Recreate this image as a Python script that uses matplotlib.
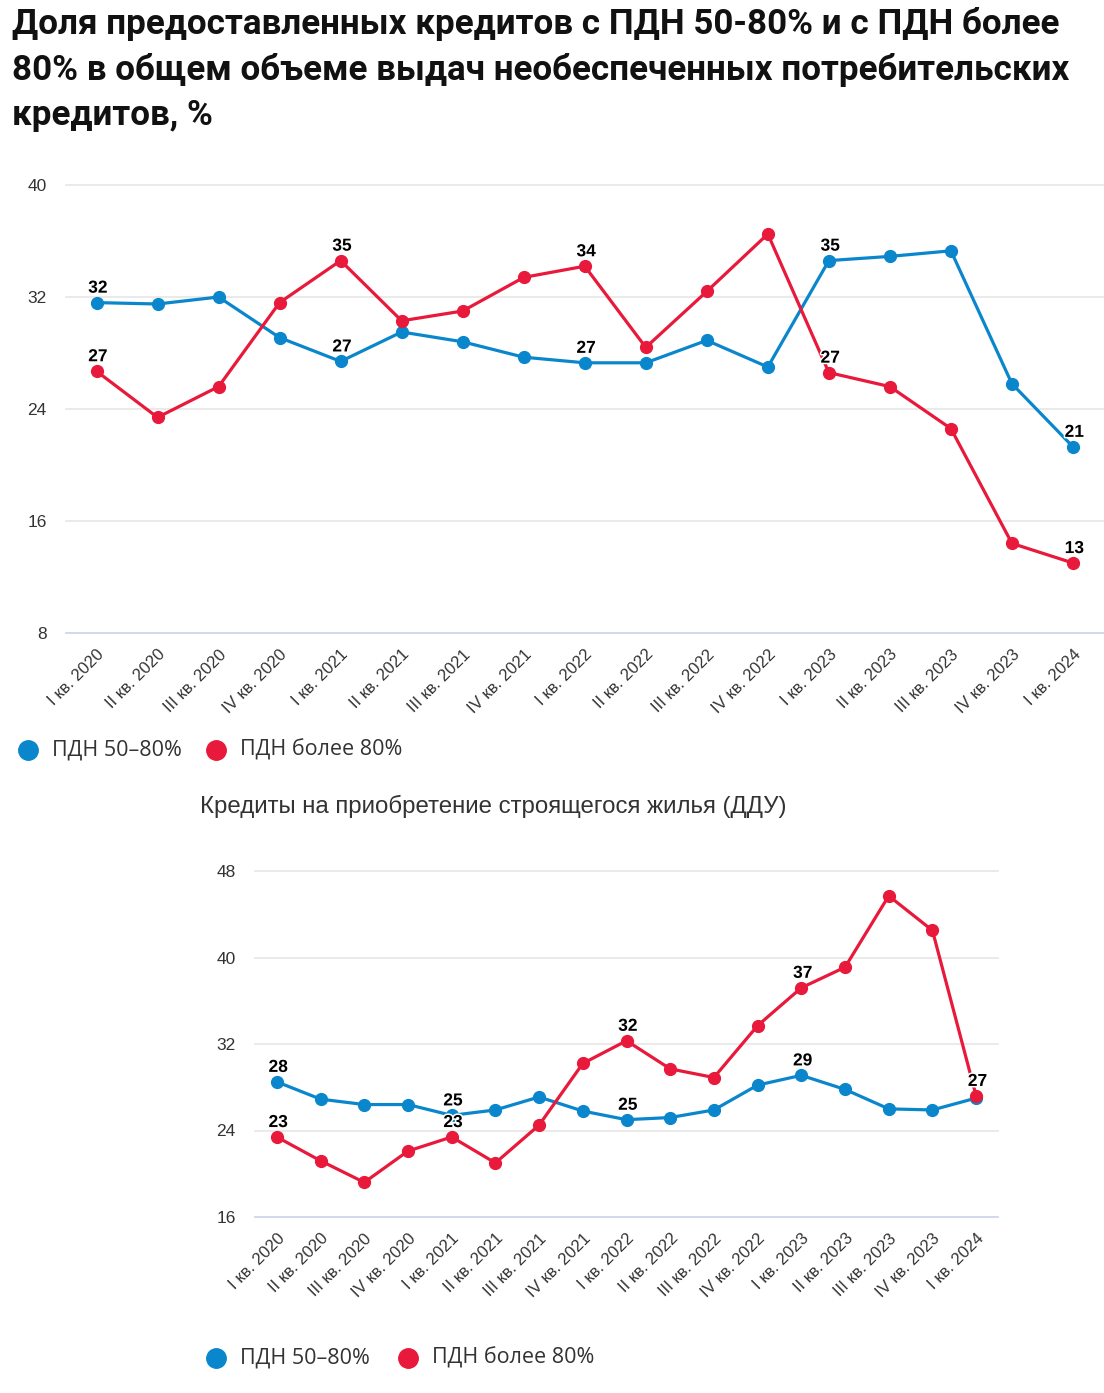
import matplotlib
matplotlib.use("Agg")
import matplotlib.pyplot as plt
from matplotlib.lines import Line2D
import matplotlib.patheffects as pe

plt.rcParams['font.family'] = ['Liberation Sans', 'DejaVu Sans']

quarters = ["I кв. 2020", "II кв. 2020", "III кв. 2020", "IV кв. 2020",
            "I кв. 2021", "II кв. 2021", "III кв. 2021", "IV кв. 2021",
            "I кв. 2022", "II кв. 2022", "III кв. 2022", "IV кв. 2022",
            "I кв. 2023", "II кв. 2023", "III кв. 2023", "IV кв. 2023",
            "I кв. 2024"]

# Chart 1: unsecured consumer loans
top_pdn_50_80 = [31.6, 31.5, 32.0, 29.1, 27.4, 29.5, 28.8, 27.7, 27.3, 27.3,
                 28.9, 27.0, 34.6, 34.9, 35.3, 25.8, 21.3]
top_pdn_80 = [26.7, 23.4, 25.6, 31.6, 34.6, 30.3, 31.0, 33.4, 34.2, 28.4,
              32.4, 36.5, 26.6, 25.6, 22.6, 14.4, 13.0]
top_lab_50_80 = [0, 4, 8, 12, 16]
top_lab_80 = [0, 4, 8, 12, 16]
top_yticks = [8, 16, 24, 32, 40]

# Chart 2: loans for housing under construction (DDU)
bot_pdn_50_80 = [28.5, 26.9, 26.4, 26.4, 25.4, 25.9, 27.1, 25.8, 25.0, 25.2,
                 25.9, 28.2, 29.1, 27.8, 26.0, 25.9, 27.0]
bot_pdn_80 = [23.4, 21.2, 19.2, 22.1, 23.4, 21.0, 24.5, 30.2, 32.3, 29.7,
              28.9, 33.7, 37.2, 39.1, 45.7, 42.5, 27.2]
bot_lab_50_80 = [0, 4, 8, 12]
bot_lab_80 = [0, 4, 8, 12, 16]
bot_yticks = [16, 24, 32, 40, 48]

title = ("Доля предоставленных кредитов с ПДН 50-80% и с ПДН более\n"
         "80% в общем объеме выдач необеспеченных потребительских\n"
         "кредитов, %")
subtitle = "Кредиты на приобретение строящегося жилья (ДДУ)"
series_names = ["ПДН 50–80%", "ПДН более 80%"]

BLUE = "#0a87cc"
RED = "#e8193a"
GRID = "#e6e6e6"
AXIS = "#ccd6eb"

W, H = 1104, 1393
fig = plt.figure(figsize=(W / 100, H / 100), dpi=100)


def fx(px):
    return px / W


def fy(py):
    return 1 - py / H


def draw(ax, s1, s2, l1, l2, yticks):
    x = list(range(len(quarters)))
    ax.plot(x, s1, color=BLUE, lw=2.3, marker='o', ms=8.5, zorder=3,
            solid_joinstyle='round')
    ax.plot(x, s2, color=RED, lw=2.3, marker='o', ms=8.5, zorder=4,
            solid_joinstyle='round')
    stroke = [pe.withStroke(linewidth=2.2, foreground='white')]
    for i in l1:
        ax.annotate(f"{round(s1[i])}", (x[i], s1[i]), xytext=(1, 5),
                    textcoords='offset points', ha='center', va='bottom',
                    fontsize=12.5, fontweight='bold', color='black',
                    path_effects=stroke, zorder=6)
    for i in l2:
        ax.annotate(f"{round(s2[i])}", (x[i], s2[i]), xytext=(1, 5),
                    textcoords='offset points', ha='center', va='bottom',
                    fontsize=12.5, fontweight='bold', color='black',
                    path_effects=stroke, zorder=6)
    ax.set_xlim(-0.5, len(quarters) - 0.5)
    ax.set_ylim(yticks[0], yticks[-1])
    ax.set_yticks(yticks)
    ax.set_yticklabels([str(t) for t in yticks])
    ax.set_xticks(x)
    ax.set_xticklabels(quarters, rotation=45, ha='right', va='top',
                       rotation_mode='anchor')
    for sp in ['top', 'right', 'left']:
        ax.spines[sp].set_visible(False)
    ax.spines['bottom'].set_color(AXIS)
    ax.spines['bottom'].set_linewidth(1.2)
    ax.grid(axis='y', color=GRID, lw=1.2, zorder=0)
    ax.set_axisbelow(True)
    ax.tick_params(axis='y', length=0, pad=14, labelsize=12.5,
                   labelcolor='#333333')
    ax.tick_params(axis='x', length=0, pad=10, labelsize=12,
                   labelcolor='#333333')
    for g in ax.get_ygridlines():
        g.set_clip_on(False)


ax1 = fig.add_axes([fx(66), fy(633), fx(1103.5) - fx(66), fy(185) - fy(633)])
draw(ax1, top_pdn_50_80, top_pdn_80, top_lab_50_80, top_lab_80, top_yticks)

ax2 = fig.add_axes([fx(255), fy(1217), fx(998) - fx(255), fy(871) - fy(1217)])
draw(ax2, bot_pdn_50_80, bot_pdn_80, bot_lab_50_80, bot_lab_80, bot_yticks)

fig.text(fx(12), fy(7), title, ha='left', va='top', fontsize=25.2,
         fontweight='bold', color='#111111', linespacing=1.46,
         family=['Roboto', 'DejaVu Sans'])

fig.text(fx(200), fy(806), subtitle, ha='left', va='center', fontsize=17.3,
         color='#333333')


def legend(x0, y0, x_second):
    for (xm, name, col) in [(x0, series_names[0], BLUE),
                            (x_second, series_names[1], RED)]:
        fig.add_artist(Line2D([fx(xm)], [fy(y0)], transform=fig.transFigure,
                              marker='o', ms=14, color=col, lw=0))
        fig.text(fx(xm + 24), fy(y0), name, ha='left', va='center',
                 fontsize=15.5, color='#333333',
                 family=['Open Sans', 'DejaVu Sans'])


legend(28, 750, 216)
legend(216, 1358, 408)

fig.savefig("out.png", dpi=100, facecolor='white')
